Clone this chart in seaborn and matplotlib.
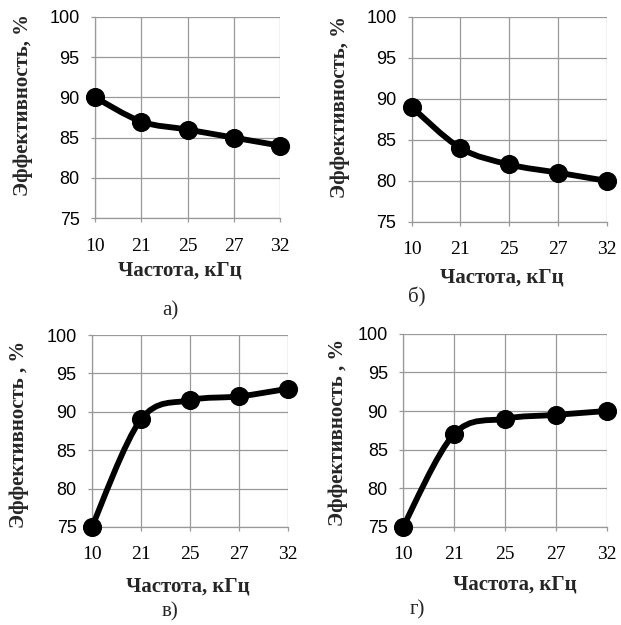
import numpy as np
import matplotlib
matplotlib.use("Agg")
import matplotlib.pyplot as plt
from matplotlib.path import Path
from matplotlib.patches import PathPatch
import seaborn as sns

# Данные (прочитаны с графиков)
chastota = ["10", "21", "25", "27", "32"]
eff_a = [90, 87, 86, 85, 84]
eff_b = [89, 84, 82, 81, 80]
eff_v = [75, 89, 91.5, 92, 93]
eff_g = [75, 87, 89, 89.5, 90]
podpisi = ["а)", "б)", "в)", "г)"]
ylabels = ["Эффективность, %", "Эффективность, %", "Эффективность , %", "Эффективность , %"]
xlabel = "Частота, кГц"
y_ticks = [75, 80, 85, 90, 95, 100]

sns.set_theme(style="whitegrid")
plt.rcParams["font.family"] = ["Liberation Serif", "DejaVu Serif"]

SERIF = "Liberation Serif"
SANS = "Liberation Sans"
GRID = "#999999"


def krivaya_excel(ax, x, y):
    # сглаженная линия как в Excel (кубические Безье по соседним точкам)
    pts = np.column_stack([x, y]).astype(float)
    ext = np.vstack([pts[0], pts, pts[-1]])
    verts = [tuple(pts[0])]
    codes = [Path.MOVETO]
    for i in range(1, len(ext) - 2):
        p0, p1, p2, p3 = ext[i - 1], ext[i], ext[i + 1], ext[i + 2]
        c1 = p1 + (p2 - p0) / 6.0
        c2 = p2 - (p3 - p1) / 6.0
        verts += [tuple(c1), tuple(c2), tuple(p2)]
        codes += [Path.CURVE4] * 3
    patch = PathPatch(Path(verts, codes), facecolor="none", edgecolor="black",
                      lw=4.2, capstyle="round", joinstyle="round", zorder=3,
                      clip_on=False)
    ax.add_patch(patch)


# позиции осей в долях фигуры: [left, bottom, width, height]
pozicii = [
    [0.153, 0.651, 0.298, 0.322],
    [0.663, 0.645, 0.314, 0.328],
    [0.148, 0.157, 0.316, 0.307],
    [0.649, 0.157, 0.328, 0.309],
]
# центры подписей осей (в координатах осей)
ylabel_xy = [(-0.39, 0.56), (-0.37, 0.56), (-0.37, 0.48), (-0.32, 0.49)]
xlabel_xy = [(0.46, -0.26), (0.46, -0.27), (0.49, -0.31), (0.55, -0.30)]
podpis_xy = [(170, 311), (417, 297), (170, 612), (417, 610)]

fig = plt.figure(figsize=(6.21, 6.25), dpi=100)
fig.patch.set_facecolor("white")

serii = [eff_a, eff_b, eff_v, eff_g]
x_pos = np.arange(len(chastota))

for k, eff in enumerate(serii):
    ax = fig.add_axes(pozicii[k])
    ax.set_facecolor("white")
    krivaya_excel(ax, x_pos, eff)
    sns.scatterplot(x=x_pos, y=eff, ax=ax, color="black", s=190,
                    edgecolor="black", linewidth=0, zorder=4, clip_on=False,
                    legend=False)
    ax.set_xlim(0, len(chastota) - 1)
    ax.set_ylim(75, 100)
    ax.set_xticks(x_pos)
    ax.set_xticklabels(chastota, fontsize=14, family=SERIF)
    ax.set_yticks(y_ticks)
    ax.set_yticklabels([str(v) for v in y_ticks], fontsize=13, family=SANS)
    ax.grid(True, color=GRID, lw=0.9)
    for side in ["top", "right"]:
        ax.spines[side].set_visible(False)
    for side in ["left", "bottom"]:
        ax.spines[side].set_color(GRID)
        ax.spines[side].set_linewidth(0.9)
    ax.tick_params(axis="both", which="both", direction="out", length=3,
                   width=0.9, color=GRID, labelcolor="black",
                   left=True, bottom=True)
    ax.tick_params(axis="x", pad=11)
    ax.tick_params(axis="y", pad=8)
    ax.set_ylabel(ylabels[k], fontsize=15, fontweight="bold", family=SERIF)
    ax.yaxis.set_label_coords(*ylabel_xy[k])
    ax.yaxis.label.set_verticalalignment("center")
    ax.set_xlabel(xlabel, fontsize=15, fontweight="bold", family=SERIF)
    ax.xaxis.set_label_coords(*xlabel_xy[k])
    ax.xaxis.label.set_verticalalignment("center")
    px, py = podpis_xy[k]
    fig.text(px / 621, 1 - py / 625, podpisi[k], fontsize=15, family=SERIF,
             ha="center", va="center")

fig.savefig("out.png", dpi=100, facecolor="white")
